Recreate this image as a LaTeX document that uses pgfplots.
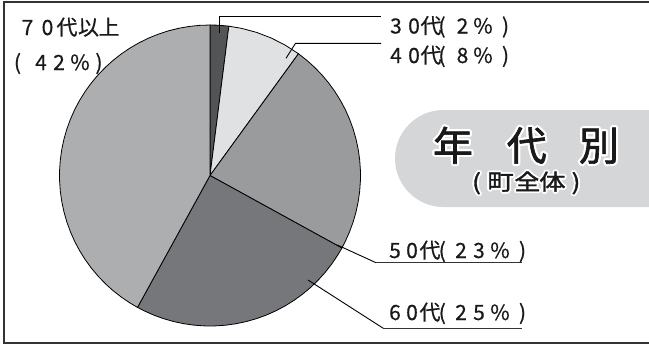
\documentclass[border=0pt]{standalone}
\usepackage{pgfplots}
\pgfplotsset{compat=1.18}
\usepgfplotslibrary{polar}
\usepackage{fontspec}
\setmainfont{Noto Sans CJK JP}
\newfontfamily\lblf[FakeBold=0.5]{Noto Sans CJK JP}
\newfontfamily\ttlf[FakeBold=1.6]{Noto Sans CJK JP}
\newfontfamily\subf[FakeStretch=1.2,FakeBold=1.6]{Noto Sans CJK JP}
\definecolor{cA}{HTML}{535456}
\definecolor{cB}{HTML}{E0E1E2}
\definecolor{cC}{HTML}{9A9B9D}
\definecolor{cD}{HTML}{76777A}
\definecolor{cE}{HTML}{ADAEB0}
\definecolor{boxg}{HTML}{D5D6D8}
\definecolor{framec}{HTML}{333333}
\begin{document}
\begin{tikzpicture}[x=1bp,y=1bp]
% pie
\begin{polaraxis}[anchor=center, hide axis, scale only axis,
  width=301bp, height=301bp, xmin=0, xmax=360, ymin=0, ymax=1, clip=false]
\coordinate (C) at (axis cs:0,0);
% 30代 2%
\addplot[fill=cA, draw=black, line width=0.8bp] coordinates {(0,0) (90,1) (87.6,1) (85.2,1) (82.8,1)} -- cycle;
% 40代 8%
\addplot[fill=cB, draw=black, line width=0.8bp] coordinates {(0,0) (82.8,1) (78,1) (72,1) (66,1) (60,1) (54,1)} -- cycle;
% 50代 23%
\addplot[fill=cC, draw=black, line width=0.8bp] coordinates {(0,0) (54,1) (50,1) (46,1) (42,1) (38,1) (34,1) (30,1) (26,1) (22,1) (18,1) (14,1) (10,1) (6,1) (2,1) (-2,1) (-6,1) (-10,1) (-14,1) (-18,1) (-22,1) (-26,1) (-28.8,1)} -- cycle;
% 60代 25%
\addplot[fill=cD, draw=black, line width=0.8bp] coordinates {(0,0) (-28.8,1) (-32,1) (-36,1) (-40,1) (-44,1) (-48,1) (-52,1) (-56,1) (-60,1) (-64,1) (-68,1) (-72,1) (-76,1) (-80,1) (-84,1) (-88,1) (-92,1) (-96,1) (-100,1) (-104,1) (-108,1) (-112,1) (-116,1) (-118.8,1)} -- cycle;
% 70代以上 42%
\addplot[fill=cE, draw=black, line width=0.8bp] coordinates {(0,0) (-118.8,1) (-122,1) (-126,1) (-130,1) (-134,1) (-138,1) (-142,1) (-146,1) (-150,1) (-154,1) (-158,1) (-162,1) (-166,1) (-170,1) (-174,1) (-178,1) (-182,1) (-186,1) (-190,1) (-194,1) (-198,1) (-202,1) (-206,1) (-210,1) (-214,1) (-218,1) (-222,1) (-226,1) (-230,1) (-234,1) (-238,1) (-242,1) (-246,1) (-250,1) (-254,1) (-258,1) (-262,1) (-266,1) (-270,1)} -- cycle;
\end{polaraxis}
\begin{scope}[shift={(C)}]
\begin{scope}[shift={(-210,-173.5)}]
% frame
\draw[line width=1.6bp, framec] (4,{349-2}) rectangle (700,{349-343});
% title box
\fill[boxg, rounded corners=48.5bp] (395,{349-110}) rectangle (760,{349-207});
% leader lines
\draw[line width=0.9bp] (219,{349-33}) -- (219,{349-16.7}) -- (381,{349-16.7});
\draw[line width=0.9bp] (286,{349-58.3}) -- (295.5,{349-43.3}) -- (381,{349-43.3});
\draw[line width=0.9bp] (337.3,{349-245}) -- (376,{349-262.7});
\draw[line width=1.5bp, black!80] (376,{349-262.7}) -- (521.7,{349-262.7});
\draw[line width=0.9bp] (308,{349-280}) -- (383.3,{349-328.3});
\draw[line width=1.5bp, black!80] (383.3,{349-328.3}) -- (521.7,{349-328.3});
% labels
\tikzset{lbl/.style={anchor=base, inner sep=0pt, text=black!90, font=\lblf\fontsize{21bp}{24bp}\selectfont}}
\foreach \x/\c in {396/3,414/0,431/代,442/{(},462.5/2,483/\%,505.5/{)}}
  \node[lbl] at (\x,{349-33.5}) {\c};
\foreach \x/\c in {396/4,414/0,431/代,442/{(},462.5/8,483/\%,505.5/{)}}
  \node[lbl] at (\x,{349-63}) {\c};
\foreach \x/\c in {395/5,412/0,430/代,442.3/{(},461/2,479/3,500/\%,522.5/{)}}
  \node[lbl] at (\x,{349-258}) {\c};
\foreach \x/\c in {395/6,412/0,430/代,442.3/{(},461/2,479/5,500/\%,522.5/{)}}
  \node[lbl] at (\x,{349-320}) {\c};
\foreach \x/\c in {27.5/7,47.5/0,67/代,88.5/以,109/上}
  \node[lbl] at (\x,{349-35}) {\c};
\foreach \x/\c in {17.5/{(},41/4,59/2,80/\%,99/{)}}
  \node[lbl] at (\x,{349-70}) {\c};
% title with white halo
\tikzset{ttl/.style={anchor=base, inner sep=0pt, font=\ttlf\fontsize{40bp}{44bp}\selectfont},
         sub/.style={anchor=base, inner sep=0pt, font=\subf\fontsize{22bp}{26bp}\selectfont}}
\foreach \x/\c in {453/年,526.7/代,599/別}{
  \foreach \a in {0,30,...,330}
    \node[ttl, text=white] at ({\x+2.2*cos(\a)},{349-160.5+2.2*sin(\a)}) {\c};
  \node[ttl, text=black!90] at (\x,{349-160.5}) {\c};
}
\foreach \x/\c in {476.5/{(},500.5/町,527.5/全,552.5/体,576/{)}}{
  \foreach \a in {0,30,...,330}
    \node[sub, text=white] at ({\x+1.8*cos(\a)},{349-190+1.8*sin(\a)}) {\c};
  \node[sub, text=black!90] at (\x,{349-190}) {\c};
}
\pgfresetboundingbox
\useasboundingbox (0,0) rectangle (649,349);
\end{scope}
\end{scope}
\end{tikzpicture}
\end{document}
